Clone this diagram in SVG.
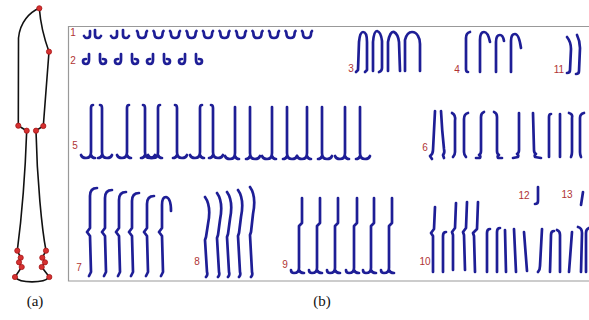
<svg xmlns="http://www.w3.org/2000/svg" xmlns:xlink="http://www.w3.org/1999/xlink" width="589" height="320" viewBox="0 0 589 320">
<style>
.s{fill:none;stroke:#1e1e96;stroke-width:2.7;stroke-linecap:round;stroke-linejoin:round}
.k{fill:none;stroke:#111;stroke-width:1.6}
.d{fill:#d63030;stroke:#a51818;stroke-width:0.8}
.n{font-family:"Liberation Sans",Arial,sans-serif;font-size:10px;fill:#b03434;text-anchor:middle}
.c{font-family:"Liberation Serif","Times New Roman",serif;font-size:15px;fill:#111;text-anchor:middle}
.f{fill:none;stroke:#999;stroke-width:1.2}
</style>
<defs>
<path id="j1" class="s" d="M3,1 L3,5 q0,3 -3,3 q-2,0 -3,-2"/>
<path id="l1" class="s" d="M0,0 L0,5 q0,3 3,3 q2,0 3,-2"/>
<path id="u1" class="s" d="M-1,1 q1,1 1,3 q0,4 4,4 q4,0 4,-4 q0,-2 1,-3"/>
<path id="d2" class="s" d="M6,0 L6,6 q0,4 -3,4 q-3,0 -3,-3 q0,-2 3,-2"/>
<path id="b2" class="s" d="M0,0 L0,6 q0,4 3,4 q3,0 3,-3 q0,-2 -3,-2"/>
<path id="a5" class="s" d="M2,0 q-2,0 -2,3 L0,47 q0,6 -5,6 q-4,0 -5,-3 M0,50 q1,3 4,3"/>
<path id="b5" class="s" d="M-2,0 q2,0 2,3 L0,47 q0,6 5,6 q4,0 5,-3 M0,50 q-1,3 -4,3"/>
<path id="a5p" class="s" d="M0,1 L0,47 q0,6 -5,6 q-4,0 -5,-3 M0,50 q1,3 4,3"/>
<path id="b5p" class="s" d="M0,1 L0,47 q0,6 5,6 q4,0 5,-3 M0,50 q-1,3 -4,3"/>
<path id="g9" class="s" d="M0,0 L0,25 l-3,3 L-3,70 q0,5 -5,5 q-3,0 -3,-3 M-3,72 q1,3 5,3"/>
</defs>

<g id="panel-a">
<path class="k" d="M39.3,8.3 C30,12 20,22 18.5,38 L18.3,125.7 L26.7,130.7 C25,180 20,230 17.3,250.7 L20.7,257.7 L19,262.3 L21.7,267 L15,277 C20,283.5 44,283.5 49.3,277 L41.7,267 L45,262.3 L42.3,257.7 L46,250.7 C42,230 37,180 36,130.7 L43.3,126 L49,51.7 Q41,30 39.3,8.3 Z"/>
<g>
<circle class="d" cx="39.3" cy="8.3" r="2.6"/>
<circle class="d" cx="49" cy="51.7" r="2.6"/>
<circle class="d" cx="18.3" cy="125.7" r="2.6"/>
<circle class="d" cx="43.3" cy="126" r="2.6"/>
<circle class="d" cx="26.7" cy="130.7" r="2.6"/>
<circle class="d" cx="36" cy="130.7" r="2.6"/>
<circle class="d" cx="17.3" cy="250.7" r="2.6"/>
<circle class="d" cx="20.7" cy="257.7" r="2.6"/>
<circle class="d" cx="19" cy="262.3" r="2.6"/>
<circle class="d" cx="21.7" cy="267" r="2.6"/>
<circle class="d" cx="15" cy="277" r="2.6"/>
<circle class="d" cx="46" cy="250.7" r="2.6"/>
<circle class="d" cx="42.3" cy="257.7" r="2.6"/>
<circle class="d" cx="45" cy="262.3" r="2.6"/>
<circle class="d" cx="41.7" cy="267" r="2.6"/>
<circle class="d" cx="49.3" cy="277" r="2.6"/>
</g>
<text class="c" x="35" y="306">(a)</text>
</g>

<g id="panel-b">
<path class="f" d="M589,26.5 L68.5,26.5 L68.5,281 L589,281"/>
<text class="c" x="322" y="306">(b)</text>

<g id="row1">
<text class="n" x="73" y="36">1</text>
<use href="#j1" x="87" y="30"/><use href="#l1" x="95" y="30"/>
<use href="#j1" x="114" y="30"/><use href="#l1" x="123" y="30"/>
<use href="#u1" x="138" y="30"/><use href="#u1" x="154.5" y="30"/><use href="#u1" x="171" y="30"/><use href="#u1" x="187.5" y="30"/><use href="#u1" x="204" y="30"/>
<use href="#u1" x="220.5" y="30"/><use href="#u1" x="237" y="30"/><use href="#u1" x="253.5" y="30"/><use href="#u1" x="270" y="30"/><use href="#u1" x="286.5" y="30"/>
<use href="#u1" x="303" y="30"/>
</g>
<g id="row2">
<text class="n" x="73" y="64">2</text>
<use href="#d2" x="83" y="54"/><use href="#b2" x="100" y="54"/><use href="#d2" x="115" y="54"/><use href="#b2" x="132" y="54"/>
<use href="#d2" x="147" y="54"/><use href="#b2" x="164" y="54"/><use href="#d2" x="179" y="54"/><use href="#b2" x="196" y="54"/>
</g>
<g id="row3">
<text class="n" x="351" y="72">3</text>
<path class="s" d="M356,72 l2,-2 L359,42 q1,-10 4,-10 q4,0 4,10 L367,70 l-2,2"/>
<path class="s" d="M373,71 L373,42 q1,-11 4,-11 q4,1 5,10 L382,68 q0,3 -3,4"/>
<path class="s" d="M388,71 L388,42 q2,-11 6,-10 q4,2 5,10 L400,71"/>
<path class="s" d="M405,71 L405,40 q2,-8 7,-8 q4,0 6,4 q2,3 2,8 L420,71"/>
</g>
<g id="row4">
<text class="n" x="457" y="73">4</text>
<path class="s" d="M470,32 q-4,1 -4,6 L466,69 q0,3 2,3"/>
<path class="s" d="M480,72 L480,40 q0,-8 4,-8 q4,0 6,10"/>
<path class="s" d="M496,72 L496,42 q0,-7 4,-7 q3,0 4,6"/>
<path class="s" d="M511,72 L511,41 q0,-7 4,-7 q4,0 6,14"/>
</g>
<g id="row11">
<text class="n" x="559" y="73">11</text>
<path class="s" d="M567,37 q4,5 4,12 L570,70 q0,3 -3,3"/>
<path class="s" d="M577,35 q3,6 3,13 L579,71 q0,3 -3,3"/>
</g>
<g id="row5">
<text class="n" x="75" y="149">5</text>
<use href="#a5" x="91" y="105"/><use href="#b5" x="102" y="105"/>
<use href="#a5" x="127" y="105"/><use href="#b5" x="145" y="105"/>
<use href="#a5" x="158" y="105"/><use href="#b5" x="177" y="105"/>
<use href="#a5" x="200" y="105"/><use href="#b5" x="213" y="105"/>
<use href="#a5p" x="235" y="106"/><use href="#b5p" x="250" y="106"/>
<use href="#a5p" x="272" y="106"/><use href="#b5p" x="287" y="106"/>
<use href="#a5p" x="307" y="106"/><use href="#b5p" x="322" y="106"/>
<use href="#a5p" x="345" y="106"/><use href="#b5p" x="360" y="106"/>
</g>
<g id="row6">
<text class="n" x="425" y="151">6</text>
<path class="s" d="M435,111 L433,150 q0,4 -3,6 l2,3"/>
<path class="s" d="M441,111 q1,20 3,38 q1,4 -1,6 l1,3"/>
<path class="s" d="M452,113 q4,2 3,8 L455,152 q0,3 -2,5"/>
<path class="s" d="M468,113 q-4,1 -4,6 L464,152 q0,3 2,5"/>
<path class="s" d="M484,112 q-3,1 -3,5 L481,151 q0,3 -2,4 q2,1 1,3 L476,158"/>
<path class="s" d="M494,112 q3,1 3,5 L497,151 q0,3 2,4 q-2,1 -1,3 L502,158"/>
<path class="s" d="M519,113 L519,150 q0,3 -2,4 q2,1 1,3 L513,158"/>
<path class="s" d="M533,113 L534,150 q0,3 2,4 q-2,1 -1,3 L541,158"/>
<path class="s" d="M551,114 q-2,0 -2,3 L549,157"/>
<path class="s" d="M560,114 L560,157"/>
<path class="s" d="M569,113 q4,1 3,5 L572,152 q0,3 -1,5"/>
<path class="s" d="M584,113 q-4,1 -4,5 L580,152 q0,3 1,5"/>
</g>
<g id="row7">
<text class="n" x="79" y="271">7</text>
<path class="s" d="M97,188 q-7,0 -7,8 L90,228 l-3,4 l3,4 L91,272 l-2,4"/>
<path class="s" d="M112,190 q-7,0 -7,8 L105,228 l-3,4 l3,4 L106,272 l-2,4"/>
<path class="s" d="M126,192 q-7,0 -7,8 L119,228 l-3,4 l3,4 L120,272 l-2,4"/>
<path class="s" d="M139,193 q-7,0 -7,8 L132,228 l-3,4 l3,4 L133,272 l-2,4"/>
<path class="s" d="M154,196 q-7,0 -7,8 L147,228 l-3,4 l3,4 L148,272 l-2,4"/>
<path class="s" d="M171,211 q0,-13 -5,-14 q-4,0 -4,8 L162,228 l-3,4 l3,4 L163,272 l-2,4"/>
</g>
<g id="row8">
<text class="n" x="197" y="265">8</text>
<path class="s" d="M205,197 C210,204 210,214 208,224 L206,237 l-1,3 L207,272 q1,3 -1,5"/>
<path class="s" d="M217,193 C222,200 222,210 220,220 L218,235 l-1,3 L219,272 q1,3 -1,5"/>
<path class="s" d="M227,192 C232,199 232,209 230,219 L228,234 l-1,3 L229,272 q1,3 -1,5"/>
<path class="s" d="M238,190 C243,197 243,207 241,217 L239,233 l-1,3 L240,272 q1,3 -1,5"/>
<path class="s" d="M250,187 C255,194 255,204 253,214 L251,232 l-1,3 L252,272 q1,3 -1,5"/>
</g>
<g id="row9">
<text class="n" x="285" y="268">9</text>
<use href="#g9" x="302" y="198"/><use href="#g9" x="320" y="198"/><use href="#g9" x="338" y="198"/>
<use href="#g9" x="357" y="198"/><use href="#g9" x="374" y="198"/><use href="#g9" x="392" y="198"/>
</g>
<g id="row10">
<text class="n" x="425" y="265">10</text>
<path class="s" d="M435,207 L434,229 l-3,4 l2,3 L433,272"/>
<path class="s" d="M446,232 q-3,0 -3,4 L443,272"/>
<path class="s" d="M456,203 L455,228 l-3,4 l1,3 L453,270"/>
<path class="s" d="M467,202 L466,228 l-3,4 l1,3 L465,270"/>
<path class="s" d="M478,202 L477,229 l-4,4 l1,3 L475,272"/>
<path class="s" d="M490,229 q-3,0 -3,4 L487,272"/>
<path class="s" d="M500,228 q-3,0 -3,4 L497,272"/>
<path class="s" d="M505,230 L506,272"/>
<path class="s" d="M514,229 L516,272"/>
<path class="s" d="M524,232 L527,271"/>
<path class="s" d="M542,229 L540,266 q0,4 -2,6"/>
<path class="s" d="M554,231 q-3,0 -3,4 L550,272"/>
<path class="s" d="M557,230 q3,1 3,5 L560,272"/>
<path class="s" d="M572,232 L569,272"/>
<path class="s" d="M578,227 q4,1 4,6 L581,272"/>
<path class="s" d="M589,228 q-3,1 -3,5 L586,272"/>
</g>
<g id="row12">
<text class="n" x="524" y="199">12</text>
<path class="s" d="M538,187 L538,201 q0,3 -3,3"/>
</g>
<g id="row13">
<text class="n" x="567" y="198">13</text>
<path class="s" d="M583,192 L581,205"/>
</g>
</g>
</svg>
